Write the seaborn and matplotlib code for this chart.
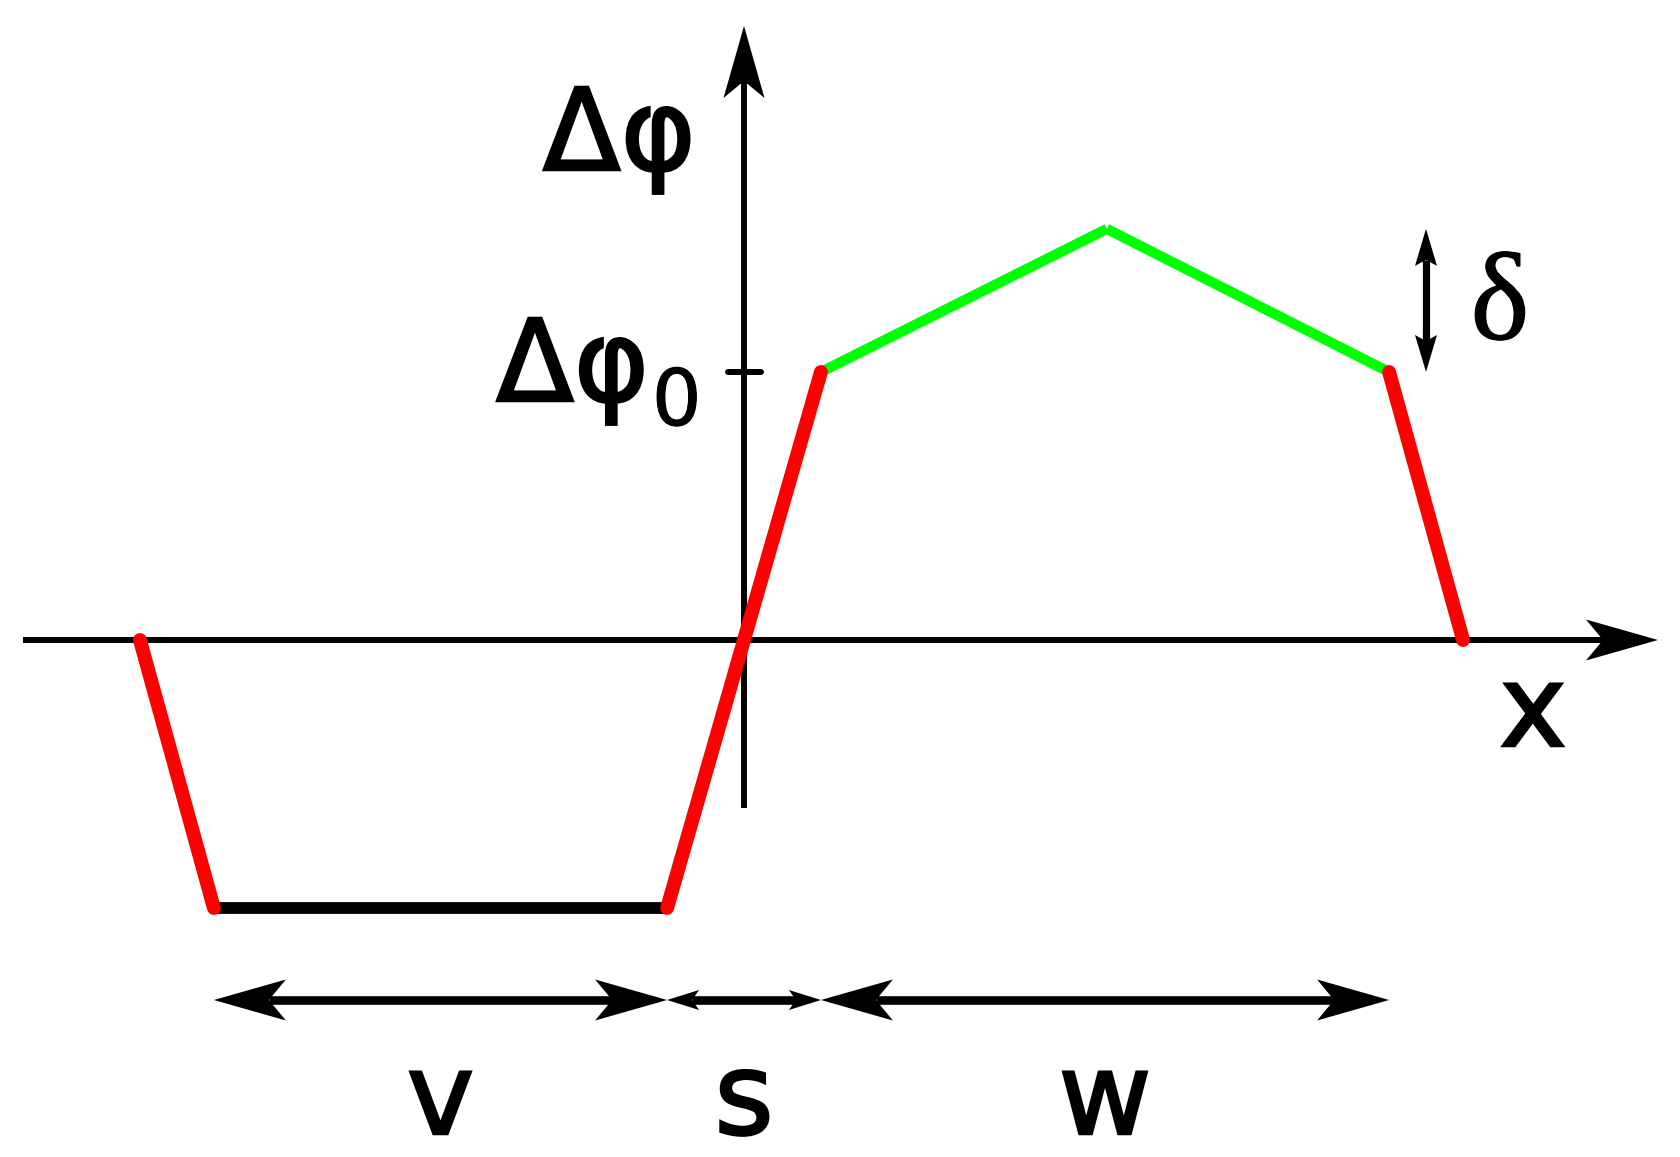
import numpy as np
import pandas as pd
import seaborn as sns
import matplotlib.pyplot as plt
import matplotlib.patheffects as pe
from matplotlib.patches import Polygon

# phase profile breakpoints, in units of dphi0
xs = [-2.254, -1.978, -0.287, 0.287, 1.354, 2.407, 2.683]
ys = [0.0, -1.0, -1.0, 1.0, 1.534, 1.0, 0.0]
seg_kind = ['edge', 'floor', 'edge', 'top', 'top', 'edge']

# width labels under the profile, between breakpoints
width_labels = ['v', 's', 'w']
width_edges = [xs[1], xs[2], xs[3], xs[5]]

PX = 1 / 268.0  # one pixel in data units
style = {'edge': ('#ff0000', 10.0, 4),
         'floor': ('#000000', 8.5, 3),
         'top': ('#00ff00', 7.4, 2)}

sns.set_style('white')
fig = plt.figure(figsize=(16.8, 11.57), dpi=100)
ax = fig.add_axes([0, 0, 1, 1])
ax.set_xlim(-744 * PX, (1680 - 744) * PX)
ax.set_ylim(-(1157 - 640) * PX, 640 * PX)
ax.axis('off')


def head(tip, d, length=72, hw=20.5, notch=17, z=5):
    d = np.array(d, float)
    n = np.array([-d[1], d[0]])
    tip = np.array(tip, float)
    L, W, N = length * PX, hw * PX, notch * PX
    pts = [tip, tip - L * d + W * n, tip - (L - N) * d, tip - L * d - W * n]
    ax.add_patch(Polygon(pts, closed=True, color='black', lw=0, zorder=z))
    return tip - (L - N) * d  # where the shaft should stop


def darrow(x0, y0, x1, y1, lw, **kw):
    d = np.array([x1 - x0, y1 - y0])
    d = d / np.hypot(*d)
    a = head((x1, y1), d, **kw)
    b = head((x0, y0), -d, **kw)
    ax.plot([b[0], a[0]], [b[1], a[1]], color='black', linewidth=lw, solid_capstyle='butt')


def label(x, y, s, size, stroke, **kw):
    kw.setdefault('family', 'DejaVu Sans')
    t = ax.text(x, y, s, fontsize=size, color='black', va='baseline', **kw)
    t.set_path_effects([pe.withStroke(linewidth=stroke, foreground='black',
                                      joinstyle='miter')])
    return t


# axes with arrows
xe = head(((1658 - 744) * PX, 0), (1, 0))
ax.plot([(23 - 744) * PX, xe[0]], [0, 0], color='black', linewidth=4.3, solid_capstyle='butt', zorder=1)
ye = head((0, (640 - 26) * PX), (0, 1))
ax.plot([0, 0], [-(808 - 640) * PX, ye[1]], color='black', linewidth=4.3, solid_capstyle='butt', zorder=1)
ax.plot([-16 * PX, 17 * PX], [1, 1], color='black', linewidth=4.3, zorder=1)

# profile
df = pd.DataFrame({'x': [v for i in range(len(seg_kind)) for v in (xs[i], xs[i + 1])],
                   'y': [v for i in range(len(seg_kind)) for v in (ys[i], ys[i + 1])],
                   'seg': [i for i in range(len(seg_kind)) for _ in range(2)]})
for i, g in df.groupby('seg'):
    c, lw, z = style[seg_kind[i]]
    sns.lineplot(data=g, x='x', y='y', color=c, linewidth=lw, sort=False, estimator=None,
                 ax=ax, zorder=z,
                 solid_capstyle='round' if seg_kind[i] == 'edge' else 'butt',
                 solid_joinstyle='miter')

# delta arrow
dx = (1426 - 744) * PX
darrow(dx, ys[5], dx, ys[4], 5.2, length=37, hw=11, notch=6)

# width arrows
yb = -(1000 - 640) * PX
for k in range(3):
    if width_labels[k] == 's':
        darrow(width_edges[k], yb, width_edges[k + 1], yb, 6.2, length=32, hw=10, notch=7)
    else:
        darrow(width_edges[k], yb, width_edges[k + 1], yb, 6.2)
    xm = (width_edges[k] + width_edges[k + 1]) / 2
    label(xm, -(1134 - 640) * PX, width_labels[k], 82, 1.8, ha='center')

# labels
label(-0.18, (640 - 170) * PX, 'Δφ', 82, 1.8, ha='right')
label((496 - 744) * PX, (640 - 401) * PX, 'Δφ', 82, 1.8, ha='left')
label((652 - 744) * PX, (640 - 425) * PX, '0', 56, 0.8, ha='left')
label((1500 - 744) * PX, (640 - 339) * PX, 'δ', 90, 0.8, ha='center',
      family=['Liberation Serif', 'DejaVu Serif'])
label((1533 - 744) * PX, (640 - 746) * PX, 'x', 82, 1.8, ha='center')

fig.savefig('out.png', dpi=100)
